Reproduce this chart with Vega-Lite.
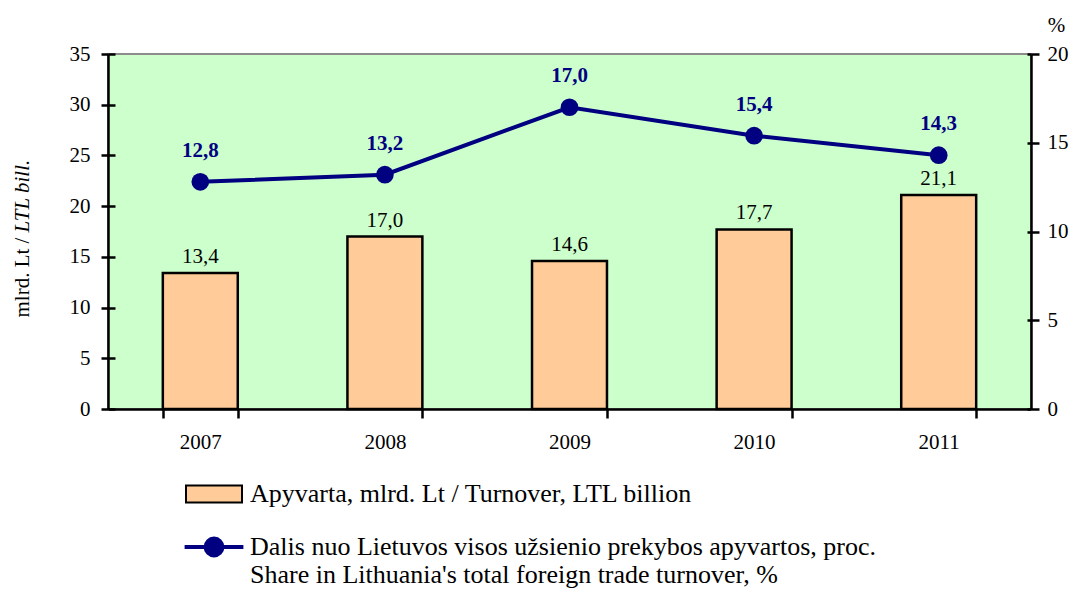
{
  "$schema": "https://vega.github.io/schema/vega-lite/v6.json",
  "width": 923,
  "height": 355,
  "autosize": {"type": "none"},
  "padding": {"left": 108, "top": 54, "right": 42, "bottom": 184},
  "background": "white",
  "config": {
    "font": "Liberation Serif",
    "locale": {"number": {"decimal": ",", "thousands": " ", "grouping": [3], "currency": ["", ""]}},
    "view": {"fill": "#CCFFCC", "stroke": "#8c8c8c", "strokeWidth": 2},
    "axis": {
      "domainColor": "black", "domainWidth": 2.5, "tickColor": "black", "tickWidth": 2.5,
      "labelFont": "Liberation Serif", "labelFontSize": 21, "labelColor": "black",
      "titleFont": "Liberation Serif", "titleFontSize": 21, "titleFontWeight": "normal", "titleColor": "black",
      "grid": false
    },
    "legend": {"labelFont": "Liberation Serif", "labelFontSize": 26, "labelColor": "black", "labelLimit": 0, "padding": 0, "title": null}
  },
  "data": {
    "values": [
      {"year": "2007", "turnover": 13.4, "share": 12.8},
      {"year": "2008", "turnover": 17.0, "share": 13.2},
      {"year": "2009", "turnover": 14.6, "share": 17.0},
      {"year": "2010", "turnover": 17.7, "share": 15.4},
      {"year": "2011", "turnover": 21.1, "share": 14.3}
    ]
  },
  "encoding": {
    "x": {
      "field": "year", "type": "ordinal",
      "scale": {"paddingInner": 0.594, "paddingOuter": 0.297},
      "axis": {"title": null, "labelAngle": 0, "tickBand": "extent", "tickSize": 9, "labelPadding": 13}
    }
  },
  "layer": [
    {
      "mark": {"type": "bar", "stroke": "black", "strokeWidth": 2.5},
      "encoding": {
        "y": {
          "field": "turnover", "type": "quantitative",
          "scale": {"domain": [0, 35], "nice": false},
          "axis": {"orient": "left", "values": [0, 5, 10, 15, 20, 25, 30, 35], "tickSize": 7, "labelPadding": 11,
            "title": "mlrd. Lt /", "titleAngle": -90, "titleAlign": "left", "titleBaseline": "middle", "titleX": -86, "titleY": 263}
        },
        "fill": {
          "datum": "Apyvarta, mlrd. Lt / Turnover, LTL billion",
          "scale": {"range": ["#FFCC99"]},
          "legend": {
            "orient": "none", "legendX": 91, "legendY": 425,
            "symbolType": "M-2,-0.6H2V0.6H-2Z", "symbolSize": 784,
            "symbolStrokeColor": "black", "symbolStrokeWidth": 2, "labelOffset": 21
          }
        }
      }
    },
    {
      "mark": {"type": "text", "dy": -10, "baseline": "alphabetic", "fontSize": 21, "color": "black"},
      "encoding": {
        "y": {
          "field": "turnover", "type": "quantitative",
          "scale": {"domain": [0, 35], "nice": false},
          "axis": {"orient": "left", "offset": 0, "values": [0, 5, 10, 15, 20, 25, 30, 35], "tickSize": -7, "labels": false, "domain": false,
            "title": "LTL bill.", "titleFontStyle": "italic", "titleAngle": -90, "titleAlign": "left", "titleBaseline": "middle", "titleX": -86, "titleY": 178}
        },
        "text": {"field": "turnover", "type": "quantitative", "format": ".1f"}
      }
    },
    {
      "encoding": {
        "y": {
          "field": "share", "type": "quantitative",
          "scale": {"domain": [0, 20], "nice": false},
          "axis": {"orient": "right", "values": [0, 5, 10, 15, 20], "tickSize": 8, "labelPadding": 8,
            "title": "%", "titleAngle": 0, "titleX": 25, "titleY": -23, "titleAlign": "center", "titleBaseline": "alphabetic"}
        }
      },
      "layer": [
        {
          "mark": {"type": "line", "strokeWidth": 4},
          "encoding": {
            "stroke": {
              "datum": "Dalis nuo Lietuvos visos užsienio prekybos apyvartos, proc.",
              "scale": {"range": ["#000080"]},
              "legend": {
                "orient": "none", "legendX": 90, "legendY": 477,
                "symbolType": "M-2.1,0H2.1M0.6,0A0.6,0.6,0,1,1,-0.6,0A0.6,0.6,0,1,1,0.6,0Z",
                "symbolSize": 784, "symbolStrokeWidth": 4, "symbolFillColor": "#000080", "labelOffset": 20,
                "labelExpr": "[\"Dalis nuo Lietuvos visos užsienio prekybos apyvartos, proc.\", \"Share in Lithuania's total foreign trade turnover, %\"]"
              }
            }
          }
        },
        {
          "mark": {"type": "point", "filled": true, "opacity": 1, "size": 314, "color": "#000080"}
        }
      ]
    },
    {
      "mark": {"type": "text", "dy": -25, "baseline": "alphabetic", "fontSize": 21, "fontWeight": "bold", "color": "#000080"},
      "encoding": {
        "y": {
          "field": "share", "type": "quantitative",
          "scale": {"domain": [0, 20], "nice": false},
          "axis": {"orient": "right", "offset": 0, "values": [0, 5, 10, 15, 20], "tickSize": -4, "labels": false, "domain": false, "title": null}
        },
        "text": {"field": "share", "type": "quantitative", "format": ".1f"}
      }
    }
  ],
  "resolve": {"scale": {"y": "independent"}}
}
